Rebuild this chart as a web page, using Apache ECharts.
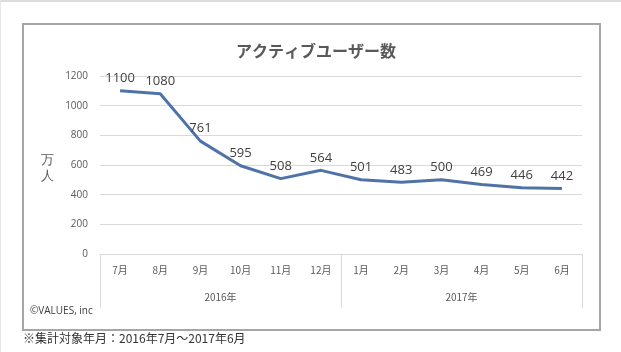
<!DOCTYPE html>
<html>
<head>
<meta charset="utf-8">
<script src="https://cdn.jsdelivr.net/npm/echarts@6/dist/echarts.min.js"></script>
<style>
html,body{margin:0;padding:0;background:#fff;}
#c{width:621px;height:352px;}
</style>
</head>
<body>
<div id="c"></div>
<script>
const months = ['7月','8月','9月','10月','11月','12月','1月','2月','3月','4月','5月','6月'];
const years = ['2016年','2017年'];
const users = [1100,1080,761,595,508,564,501,483,500,469,446,442];
const yTicks = {min:0, max:1200, interval:200};

const font = '"Noto Sans CJK JP", "Open Sans", sans-serif';
const chart = echarts.init(document.getElementById('c'), null, {renderer:'canvas'});
chart.setOption({
  backgroundColor:'#fff',
  animation:false,
  title:{
    text:'アクティブユーザー数',
    left:311, top:38, textAlign:'center',
    textStyle:{fontFamily:font, fontSize:16, fontWeight:'bold', color:'#595959'}
  },
  grid:{left:100, right:39, top:76, bottom:98, containLabel:false},
  xAxis:[
    {
      type:'category', data:months, position:'bottom', boundaryGap:true,
      axisLine:{show:true, lineStyle:{color:'#d9d9d9', width:1}},
      axisTick:{show:false},
      axisLabel:{margin:11, fontSize:10, color:'#595959', fontFamily:font},
      splitLine:{show:false}
    },
    {
      type:'category', data:years, position:'bottom', boundaryGap:true,
      axisLine:{show:false},
      axisTick:{show:true, length:54, inside:false, lineStyle:{color:'#d9d9d9', width:1}},
      axisLabel:{margin:38, fontSize:10, color:'#595959', fontFamily:font},
      splitLine:{show:false}
    }
  ],
  yAxis:{
    type:'value', min:yTicks.min, max:yTicks.max, interval:yTicks.interval,
    axisLine:{show:false}, axisTick:{show:false},
    axisLabel:{margin:12, fontSize:10, color:'#595959', fontFamily:'"Open Sans", sans-serif',
      formatter:function(v){return String(v);}},
    splitLine:{lineStyle:{color:'#d9d9d9', width:1}}
  },
  graphic:[
    {type:'rect', shape:{x:0, y:0, width:621, height:2}, style:{fill:'#dcdcdc'}, silent:true},
    {type:'rect', shape:{x:0, y:0, width:1, height:352}, style:{fill:'#e6e6e6'}, silent:true},
    {type:'rect', shape:{x:23, y:24, width:577, height:306}, style:{fill:'none', stroke:'#a6a6a6', lineWidth:2}, silent:true, z:-1},
    {type:'text', left:41, top:152, style:{text:'万\n人', fontSize:13, lineHeight:16, fill:'#595959', font:'13px "Noto Sans CJK JP"'}},
    {type:'text', left:30, top:306, style:{text:'©VALUES, inc', fill:'#404040', font:'10px "Open Sans", sans-serif'}},
    {type:'text', left:23, top:332, style:{text:'※集計対象年月：2016年7月～2017年6月', fill:'#333333', font:'12px "Noto Sans CJK JP"'}}
  ],
  series:[{
    type:'line', data:users, xAxisIndex:0,
    symbol:'circle', symbolSize:2, showSymbol:true, smooth:false,
    itemStyle:{color:'rgba(0,0,0,0)', borderWidth:0},
    lineStyle:{color:'#4f73a8', width:3},
    label:{show:true, position:'top', distance:5, fontSize:13, color:'#404040', fontFamily:'"Open Sans", sans-serif'}
  }]
});
</script>
</body>
</html>
